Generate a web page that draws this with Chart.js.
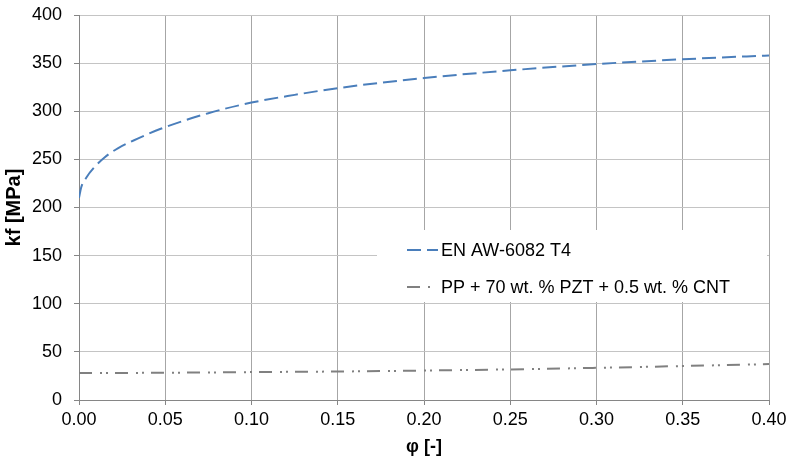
<!DOCTYPE html>
<html>
<head>
<meta charset="utf-8">
<script src="https://cdn.jsdelivr.net/npm/chart.js@4.4.1/dist/chart.umd.min.js"></script>
<style>
html,body{margin:0;padding:0;background:#fff;}
#wrap{width:787px;height:462px;}
</style>
</head>
<body>
<div id="wrap"><canvas id="c" width="787" height="462"></canvas></div>
<script>
const seriesNames = ["EN AW-6082 T4", "PP + 70 wt. % PZT + 0.5 wt. % CNT"];
const alPhi = [0, 0.0013, 0.0042, 0.009, 0.0148, 0.0225, 0.034, 0.047, 0.075, 0.1, 0.125, 0.15, 0.2, 0.25, 0.3, 0.35, 0.4];
const alKf  = [210, 221, 231, 242, 252, 261.5, 271.5, 281.5, 298, 309, 317, 324, 334.5, 342.5, 349, 354, 358];
const ppPhi = [0, 0.05, 0.1, 0.15, 0.2, 0.25, 0.3, 0.35, 0.4];
const ppKf  = [28, 28.3, 29, 29.6, 30.6, 31.8, 33.4, 35.3, 37.3];
const xTicks = [0, 0.05, 0.1, 0.15, 0.2, 0.25, 0.3, 0.35, 0.4];
const yTicks = [0, 50, 100, 150, 200, 250, 300, 350, 400];
const xTitle = "φ [-]";
const yTitle = "kf [MPa]";

const FONT = "'Liberation Sans', Arial, sans-serif";

const legendPlugin = {
  id: 'insideLegend',
  afterDraw(chart) {
    const ctx = chart.ctx, ca = chart.chartArea;
    const x0 = ca.left + 298, y0 = ca.top + 215, w = 390, h = 72;
    ctx.save();
    ctx.fillStyle = '#ffffff';
    ctx.fillRect(x0, y0, w, h);
    const rows = [y0 + 20, y0 + 57];
    const sampleEnd = [61, 53];
    chart.data.datasets.forEach((ds, i) => {
      const y = rows[i];
      ctx.strokeStyle = ds.borderColor;
      ctx.lineWidth = ds.borderWidth;
      ctx.setLineDash(ds.borderDash);
      ctx.beginPath();
      ctx.moveTo(x0 + 30, y);
      ctx.lineTo(x0 + sampleEnd[i], y);
      ctx.stroke();
      ctx.setLineDash([]);
      ctx.fillStyle = '#000';
      ctx.font = '18px ' + FONT;
      ctx.textBaseline = 'middle';
      ctx.textAlign = 'left';
      ctx.fillText(ds.label, x0 + 64, y + 1);
    });
    ctx.restore();
  }
};

new Chart(document.getElementById('c'), {
  type: 'line',
  data: {
    datasets: [
      {
        label: seriesNames[0],
        data: alPhi.map((x, i) => ({x: x, y: alKf[i]})),
        borderColor: '#4a7ebb',
        borderWidth: 2,
        borderDash: [14, 6],
        pointRadius: 0,
        cubicInterpolationMode: 'monotone',
        fill: false
      },
      {
        label: seriesNames[1],
        data: ppPhi.map((x, i) => ({x: x, y: ppKf[i]})),
        borderColor: '#808080',
        borderWidth: 2,
        borderDash: [13, 8, 2, 4, 2, 7],
        pointRadius: 0,
        cubicInterpolationMode: 'monotone',
        fill: false
      }
    ]
  },
  options: {
    responsive: false,
    animation: false,
    devicePixelRatio: 1,
    layout: { padding: { top: 15, right: 18, left: 0, bottom: 0 } },
    plugins: { legend: { display: false }, tooltip: { enabled: false } },
    scales: {
      x: {
        type: 'linear',
        min: 0, max: 0.4,
        afterBuildTicks(s) { s.ticks = xTicks.map(v => ({value: v})); },
        afterFit(s) { s.height = 62; s.paddingLeft = 0; s.paddingRight = 0; },
        border: { color: '#868686', width: 1 },
        grid: { color: '#a6a6a6', lineWidth: 1, tickLength: 5, tickColor: '#868686' },
        ticks: { color: '#000', font: { family: FONT, size: 18 }, padding: 4, maxRotation: 0,
                 callback: v => Number(v).toFixed(2) },
        title: { display: true, text: xTitle, color: '#000', font: { family: FONT, size: 18, weight: 'bold' }, padding: { top: 0, bottom: 4 } }
      },
      y: {
        type: 'linear',
        min: 0, max: 400,
        afterBuildTicks(s) { s.ticks = yTicks.map(v => ({value: v})); },
        afterFit(s) { s.width = 79; s.paddingTop = 0; s.paddingBottom = 0; },
        border: { color: '#868686', width: 1 },
        grid: { color: '#c4c4c4', lineWidth: 1, tickLength: 5, tickColor: '#868686' },
        ticks: { color: '#000', font: { family: FONT, size: 18 }, padding: 12 },
        title: { display: true, text: yTitle, color: '#000', font: { family: FONT, size: 20, weight: 'bold' }, padding: { top: 2, bottom: 0 } }
      }
    }
  },
  plugins: [legendPlugin]
});
</script>
</body>
</html>
